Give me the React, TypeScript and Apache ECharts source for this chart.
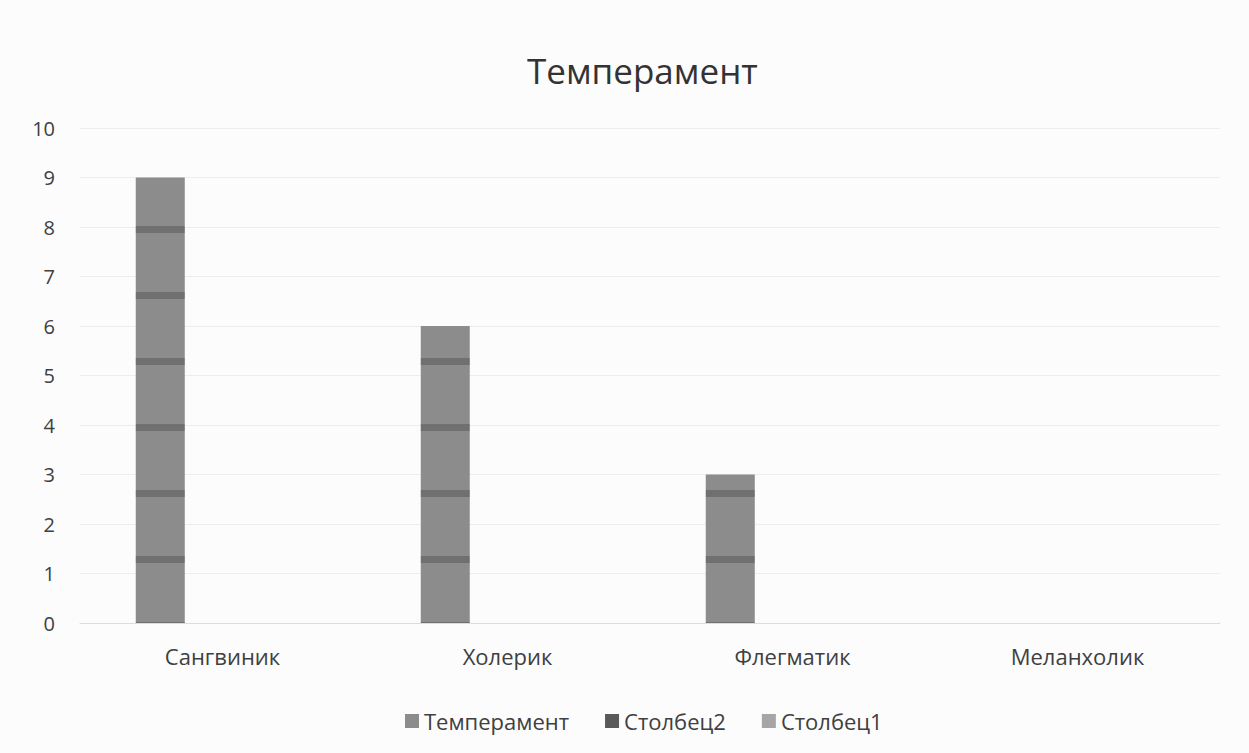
import React, { useEffect, useRef } from "react";
import * as echarts from "echarts";

const categories = ["Сангвиник", "Холерик", "Флегматик", "Меланхолик"];
const temperamentValues = [9, 6, 3, 0];
const column2Values = [null, null, null, null];
const column1Values = [null, null, null, null];
const seriesNames = ["Темперамент", "Столбец2", "Столбец1"];
const yTicks = { min: 0, max: 10, interval: 1 };

export default function App() {
  const ref = useRef<HTMLDivElement>(null);
  useEffect(() => {
    document.body.style.margin = "0";
    const chart = echarts.init(ref.current!, null, { renderer: "svg" });
    const font = "'Open Sans', 'Noto Sans', sans-serif";
    chart.setOption({
      animation: false,
      backgroundColor: "#fcfcfc",
      title: {
        text: "Темперамент",
        left: 522,
        top: 48,
        textStyle: { fontFamily: font, fontSize: 35, fontWeight: "normal", color: "#333333" },
      },
      legend: {
        data: seriesNames,
        left: 400,
        top: 705,
        itemWidth: 14,
        itemHeight: 14,
        itemGap: 36,
        icon: "rect",
        textStyle: { fontFamily: font, fontSize: 22, color: "#404040" },
      },
      grid: { left: 80, right: 29, top: 128, bottom: 130, containLabel: false },
      xAxis: {
        type: "category",
        data: categories,
        axisLine: { show: true, lineStyle: { color: "#dcdcdc" } },
        axisTick: { show: false },
        axisLabel: { fontFamily: font, fontSize: 22, color: "#404040", margin: 22 },
      },
      yAxis: {
        type: "value",
        min: yTicks.min,
        max: yTicks.max,
        interval: yTicks.interval,
        axisLine: { show: false },
        axisTick: { show: false },
        splitLine: { lineStyle: { color: "#ededed" } },
        axisLabel: { fontFamily: font, fontSize: 20, color: "#404040", margin: 25 },
      },
      series: [
        {
          name: seriesNames[0],
          type: "bar",
          data: temperamentValues,
          barWidth: 49,
          barGap: "27%",
          itemStyle: {
            color: "#8c8c8c",
            decal: {
              symbol: "rect",
              symbolSize: 1,
              dashArrayX: [10, 0],
              dashArrayY: [0, 28, 7, 31],
              color: "rgba(60,60,60,0.35)",
            },
          },
        },
        {
          name: seriesNames[1],
          type: "bar",
          data: column2Values,
          barWidth: 49,
          barGap: "27%",
          itemStyle: { color: "#595959" },
        },
        {
          name: seriesNames[2],
          type: "bar",
          data: column1Values,
          barWidth: 49,
          barGap: "27%",
          itemStyle: { color: "#a6a6a6" },
        },
      ],
    });
    return () => chart.dispose();
  }, []);
  return (
    <div
      ref={ref}
      style={{ position: "absolute", left: 0, top: 0, width: 1249, height: 753 }}
    />
  );
}
